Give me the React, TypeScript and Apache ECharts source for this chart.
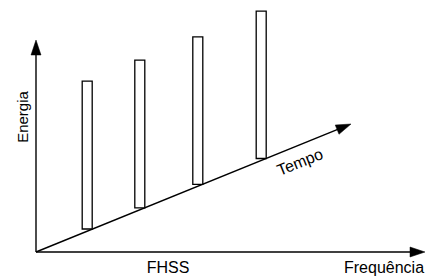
import React, { useEffect, useRef } from "react";
import * as echarts from "echarts";

// Hop bars: centre position along the frequency axis, base (on the time line) and top (energy)
const barCenters = [51.2, 103.8, 161.8, 225.2];
const barBases = [23, 44.2, 67.7, 93.5];
const barTops = [170.8, 191.8, 215.2, 240.8];
const barHalfWidth = 5;

// Axis arrows: [x0, y0, x1, y1] in data units (origin at 0,0)
const energyAxis = [0, 0, 0, 212];
const freqAxis = [0, 0, 389, 0];
const timeAxis = [0, 0, 315, 128];

const labelEnergy = "Energia";
const labelTitle = "FHSS";
const labelFreq = "Frequência";
const labelTime = "Tempo";

const FONT = "'Liberation Sans', Arial, sans-serif";

export default function App() {
  const ref = useRef<HTMLDivElement>(null);
  useEffect(() => {
    document.body.style.margin = "0";
    const chart = echarts.init(ref.current!, null, { renderer: "svg" });
    const barData = barCenters.map((c, i) => [c, barBases[i], barTops[i]]);
    const arrowData = [energyAxis, freqAxis, timeAxis];
    chart.setOption({
      animation: false,
      backgroundColor: "#ffffff",
      grid: { left: 36, top: 0, right: 0, bottom: 24 },
      xAxis: { type: "value", min: 0, max: 389, show: false },
      yAxis: { type: "value", min: 0, max: 252, show: false },
      series: [
        {
          type: "custom",
          z: 1,
          data: arrowData,
          encode: { x: [0, 2], y: [1, 3] },
          renderItem: (params: any, api: any) => {
            const a = api.coord([api.value(0), api.value(1)]);
            const b = api.coord([api.value(2), api.value(3)]);
            const dx = b[0] - a[0];
            const dy = b[1] - a[1];
            const len = Math.sqrt(dx * dx + dy * dy);
            const ux = dx / len;
            const uy = dy / len;
            const headL = 15;
            const headW = 5;
            const bx = b[0] - ux * headL;
            const by = b[1] - uy * headL;
            const px = -uy;
            const py = ux;
            return {
              type: "group",
              children: [
                {
                  type: "line",
                  shape: { x1: a[0], y1: a[1], x2: bx + ux * 2, y2: by + uy * 2 },
                  style: { stroke: "#000", lineWidth: 1.4 },
                },
                {
                  type: "polygon",
                  shape: {
                    points: [
                      [b[0], b[1]],
                      [bx + px * headW, by + py * headW],
                      [bx - px * headW, by - py * headW],
                    ],
                  },
                  style: { fill: "#000", stroke: "#000", lineWidth: 0.5 },
                },
              ],
            };
          },
        },
        {
          type: "custom",
          z: 2,
          data: barData,
          encode: { x: 0, y: [1, 2] },
          renderItem: (params: any, api: any) => {
            const c = api.value(0);
            const p1 = api.coord([c - barHalfWidth, api.value(2)]);
            const p2 = api.coord([c + barHalfWidth, api.value(1)]);
            return {
              type: "rect",
              shape: { x: p1[0], y: p1[1], width: p2[0] - p1[0], height: p2[1] - p1[1] },
              style: { fill: "#fff", stroke: "#000", lineWidth: 1.3 },
            };
          },
        },
      ],
      graphic: [
        {
          type: "text",
          x: 22.5,
          y: 117,
          rotation: Math.PI / 2,
          style: {
            text: labelEnergy,
            font: `15px ${FONT}`,
            fill: "#000",
            align: "center",
            verticalAlign: "middle",
          },
        },
        {
          type: "text",
          x: 168,
          y: 267.5,
          style: {
            text: labelTitle,
            font: `16px ${FONT}`,
            fill: "#000",
            align: "center",
            verticalAlign: "middle",
          },
        },
        {
          type: "text",
          x: 344,
          y: 267.5,
          style: {
            text: labelFreq,
            font: `16px ${FONT}`,
            fill: "#000",
            align: "left",
            verticalAlign: "middle",
          },
        },
        {
          type: "text",
          x: 300,
          y: 162,
          rotation: Math.atan2(128, 315),
          style: {
            text: labelTime,
            font: `16px ${FONT}`,
            fill: "#000",
            align: "center",
            verticalAlign: "middle",
          },
        },
      ],
    });
    return () => chart.dispose();
  }, []);
  return <div ref={ref} style={{ width: 425, height: 276 }} />;
}
